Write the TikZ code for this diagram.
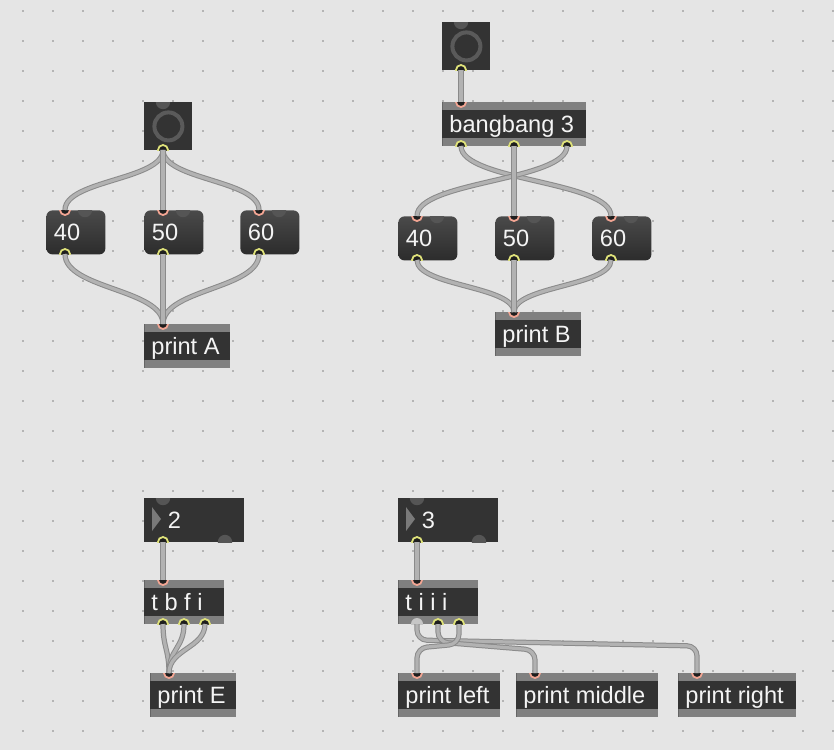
\documentclass[tikz,border=0pt]{standalone}
\usepackage{fontspec}
\setmainfont{Liberation Sans}
\usepackage{xcolor}
\usepackage{tikz}

\definecolor{bgcol}{HTML}{E5E5E5}
\definecolor{dotcol}{HTML}{B4B4B4}
\definecolor{boxdark}{HTML}{333333}
\definecolor{bargray}{HTML}{808080}
\definecolor{msgtop}{HTML}{4A4A4A}
\definecolor{msgbot}{HTML}{2C2C2C}
\definecolor{ringcol}{HTML}{5A5A5A}
\definecolor{freecol}{HTML}{555555}
\definecolor{trigray}{HTML}{7A7A7A}
\definecolor{portfill}{HTML}{1E1E1E}
\definecolor{inring}{HTML}{F2A593}
\definecolor{outring}{HTML}{DFE27A}
\definecolor{selport}{HTML}{C6C6C6}
\definecolor{cordout}{HTML}{8A8A8A}
\definecolor{cordin}{HTML}{B2B2B2}
\definecolor{txtcol}{HTML}{F4F4F4}

%ports: half discs clipped inside the box%
\newcommand{\inport}[3]{\coordinate (#1) at (#2,#3);
  \begin{scope} \clip (#2-8,#3) rectangle (#2+8,#3+8);
    \filldraw[fill=portfill, draw=inring, line width=0.9pt] (#1) circle[radius=2.5pt];
  \end{scope}}
\newcommand{\outport}[3]{\coordinate (#1) at (#2,#3);
  \begin{scope} \clip (#2-8,#3) rectangle (#2+8,#3-8);
    \filldraw[fill=portfill, draw=outring, line width=0.9pt] (#1) circle[radius=2.5pt];
  \end{scope}}
\newcommand{\freein}[2]{\begin{scope} \clip (#1-9,#2) rectangle (#1+9,#2+9);
    \fill[freecol] (#1,#2) circle[radius=3.6pt]; \end{scope}}
\newcommand{\freeout}[2]{\begin{scope} \clip (#1-9,#2) rectangle (#1+9,#2-9);
    \fill[freecol] (#1,#2) circle[radius=3.6pt]; \end{scope}}

\begin{document}
\begin{tikzpicture}[x=0.5pt, y=-0.5pt,
  obj/.style={rectangle, inner sep=0, minimum height=22pt, anchor=north west, fill=boxdark,
    path picture={
      \fill[bargray] (path picture bounding box.north west) rectangle ([yshift=-4pt]path picture bounding box.north east);
      \fill[bargray] (path picture bounding box.south west) rectangle ([yshift=4pt]path picture bounding box.south east);}},
  msg/.style={rectangle, inner sep=0, minimum width=29.5pt, minimum height=22pt, anchor=north west,
    rounded corners=3pt, top color=msgtop, bottom color=msgbot},
  bng/.style={rectangle, inner sep=0, minimum size=24pt, anchor=north west, fill=boxdark},
  num/.style={rectangle, inner sep=0, minimum width=50pt, minimum height=22pt, anchor=north west, fill=boxdark},
  txt/.style={anchor=base west, inner sep=0, text=txtcol, font=\fontsize{11.8}{12}\selectfont},
  cord/.style={draw=cordout, line width=0.5pt, double=cordin, double distance=1.6pt}]

%background and grid%
\useasboundingbox (0,0) rectangle (834,750);
\fill[bgcol] (0,0) rectangle (834,750);
\foreach \i in {0,...,27}
  \foreach \j in {0,...,24}
    \fill[dotcol] (22+30*\i,10+30*\j) rectangle ++(2,2);

%patch A: one bang to three messages%
\node[bng] (bangA) at (144,102) {};
\draw[ringcol, line width=2pt] (bangA.center) circle[radius=7pt];
\node[msg] (m40A) at (46,210) {};
\node[msg] (m50A) at (144,210) {};
\node[msg] (m60A) at (240,210) {};
\node[obj, minimum width=43pt] (printA) at (144,324) {};
\node[txt] (t40A) at ([shift={(7.5,30)}]m40A.north west) {40};
\node[txt] (t50A) at ([shift={(7.5,30)}]m50A.north west) {50};
\node[txt] (t60A) at ([shift={(7.5,30)}]m60A.north west) {60};
\node[txt] (tprintA) at ([shift={(7,30)}]printA.north west) {print A};
\freein{163}{102} \outport{bangA-o}{163}{150}
\inport{m40A-i}{65}{210} \outport{m40A-o}{65}{254} \freein{85}{210}
\inport{m50A-i}{163}{210} \outport{m50A-o}{163}{254} \freein{183}{210}
\inport{m60A-i}{259}{210} \outport{m60A-o}{259}{254} \freein{279}{210}
\inport{printA-i}{163}{324}
\draw[cord] (bangA-o) .. controls +(0,30) and +(0,-30) .. (m40A-i);
\draw[cord] (bangA-o) .. controls +(0,30) and +(0,-30) .. (m60A-i);
\draw[cord] (bangA-o) -- (m50A-i);
\draw[cord] (m40A-o) .. controls +(0,35) and +(0,-35) .. (printA-i);
\draw[cord] (m60A-o) .. controls +(0,35) and +(0,-35) .. (printA-i);
\draw[cord] (m50A-o) -- (printA-i);

%patch B: bangbang, right outlet first%
\node[bng] (bangB) at (442,22) {};
\draw[ringcol, line width=2pt] (bangB.center) circle[radius=7pt];
\node[obj, minimum width=72pt] (bbB) at (442,102) {};
\node[msg] (m40B) at (398,216) {};
\node[msg] (m50B) at (495,216) {};
\node[msg] (m60B) at (592,216) {};
\node[obj, minimum width=43pt] (printB) at (495,312) {};
\node[txt] (tbbB) at ([shift={(7,30)}]bbB.north west) {bangbang 3};
\node[txt] (t40B) at ([shift={(7.5,30)}]m40B.north west) {40};
\node[txt] (t50B) at ([shift={(7.5,30)}]m50B.north west) {50};
\node[txt] (t60B) at ([shift={(7.5,30)}]m60B.north west) {60};
\node[txt] (tprintB) at ([shift={(7,30)}]printB.north west) {print B};
\freein{461}{22} \outport{bangB-o}{461}{70}
\inport{bbB-i}{461}{102}
\outport{bbB-o1}{461}{146} \outport{bbB-o2}{514}{146} \outport{bbB-o3}{567}{146}
\inport{m40B-i}{417}{216} \outport{m40B-o}{417}{260} \freein{437}{216}
\inport{m50B-i}{514}{216} \outport{m50B-o}{514}{260} \freein{534}{216}
\inport{m60B-i}{611}{216} \outport{m60B-o}{611}{260} \freein{631}{216}
\inport{printB-i}{514}{312}
\draw[cord] (bangB-o) -- (bbB-i);
\draw[cord] (bbB-o1) .. controls +(0,35) and +(0,-35) .. (m60B-i);
\draw[cord] (bbB-o3) .. controls +(0,35) and +(0,-35) .. (m40B-i);
\draw[cord] (bbB-o2) -- (m50B-i);
\draw[cord] (m40B-o) .. controls +(0,26) and +(0,-26) .. (printB-i);
\draw[cord] (m60B-o) .. controls +(0,26) and +(0,-26) .. (printB-i);
\draw[cord] (m50B-o) -- (printB-i);

%patch E: trigger into one print%
\node[num] (num2) at (144,498) {};
\fill[trigray] (152,507) -- (152,531) -- (161,519) -- cycle;
\node[obj, minimum width=40pt] (tbfi) at (144,580) {};
\node[obj, minimum width=43pt] (printE) at (150,673) {};
\node[txt] (tnum2) at ([shift={(23.5,30)}]num2.north west) {2};
\node[txt] (ttbfi) at ([shift={(7,30)}]tbfi.north west) {t b f i};
\node[txt] (tprintE) at ([shift={(7,30)}]printE.north west) {print E};
\freein{163}{498} \outport{num2-o}{163}{542} \freeout{225}{542}
\inport{tbfi-i}{163}{580}
\outport{tbfi-o1}{163}{624} \outport{tbfi-o2}{184}{624} \outport{tbfi-o3}{205}{624}
\inport{printE-i}{169}{673}
\draw[cord] (num2-o) -- (tbfi-i);
\draw[cord] (tbfi-o1) .. controls +(0,24) and +(0,-24) .. (printE-i);
\draw[cord] (tbfi-o2) .. controls +(0,24) and +(0,-24) .. (printE-i);
\draw[cord] (tbfi-o3) .. controls +(0,24) and +(0,-24) .. (printE-i);

%patch LMR: trigger into three prints%
\node[num] (num3) at (398,498) {};
\fill[trigray] (406,507) -- (406,531) -- (415,519) -- cycle;
\node[obj, minimum width=40pt] (tiii) at (398,580) {};
\node[obj, minimum width=51pt] (printL) at (398,673) {};
\node[obj, minimum width=71pt] (printM) at (516,673) {};
\node[obj, minimum width=59pt] (printR) at (678,673) {};
\node[txt] (tnum3) at ([shift={(23.5,30)}]num3.north west) {3};
\node[txt] (ttiii) at ([shift={(7,30)}]tiii.north west) {t i i i};
\node[txt] (tprintL) at ([shift={(7,30)}]printL.north west) {print left};
\node[txt] (tprintM) at ([shift={(7,30)}]printM.north west) {print middle};
\node[txt] (tprintR) at ([shift={(7,30)}]printR.north west) {print right};
\freein{417}{498} \outport{num3-o}{417}{542} \freeout{479}{542}
\inport{tiii-i}{417}{580}
\coordinate (tiii-o1) at (417,624);
\begin{scope} \clip (409,624) rectangle (425,616);
  \fill[selport] (tiii-o1) circle[radius=3pt]; \end{scope}
\outport{tiii-o2}{438}{624} \outport{tiii-o3}{459}{624}
\inport{printL-i}{417}{673} \inport{printM-i}{535}{673} \inport{printR-i}{697}{673}
\draw[cord] (num3-o) -- (tiii-i);
\draw[cord, rounded corners=5pt] (tiii-o1) -- ++(0,16) -- ([yshift=13.5pt]printR-i) -- (printR-i);
\draw[cord, rounded corners=5pt] (tiii-o2) -- ++(0,18) -- ([yshift=11.5pt]printM-i) -- (printM-i);
\draw[cord, rounded corners=5pt] (tiii-o3) -- ++(0,20) -- ([yshift=12.5pt]printL-i) -- (printL-i);

\end{tikzpicture}
\end{document}
